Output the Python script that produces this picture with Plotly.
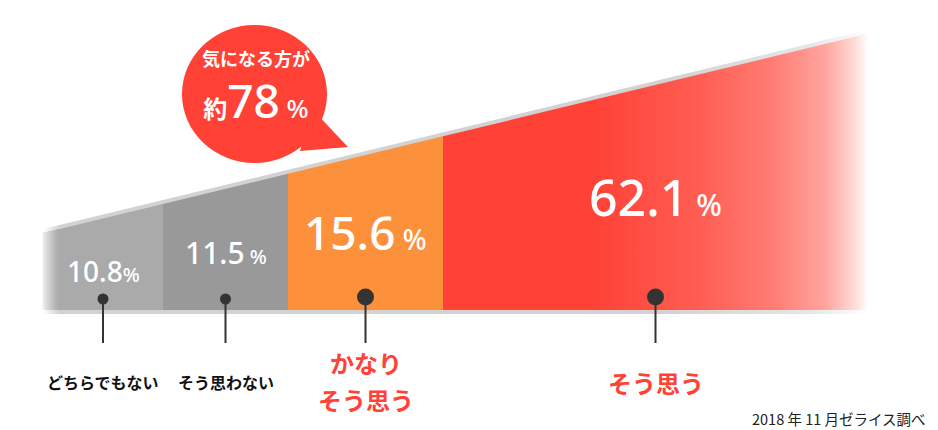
import plotly.graph_objects as go

# ---------------- data ----------------
categories = ["どちらでもない", "そう思わない", "かなり<br>そう思う", "そう思う"]
values = [10.8, 11.5, 15.6, 62.1]
value_suffix = ["%", " %", " %", " %"]
bubble_line1 = "気になる方が"
bubble_prefix = "約"
source_note = "2018 年 11 月ゼライス調べ"

# ---------------- layout / style constants ----------------
W, H = 938, 430
edges = [43, 163, 288, 443, 868]          # segment boundaries (px)
bar_bottom = 310
top_left, slope = 233.0, 0.2417          # slanted top edge
seg_colors = ["#aaaaaa", "#999999", "#fd903b", "#ff4136"]
left_fade_px = 16                         # width of white fade on the left end
red_gradient = [[0, "#ff4136"], [0.35, "#ff4136"], [0.6, "#ff5d53"], [0.78, "#ff7d74"],
                [0.9, "#ffa59f"], [0.97, "#ffdcd9"], [1, "#ffffff"]]
label_y = [271, 252, 232, 197]
num_size = [28, 30, 46, 50]
pct_size = [20, 20, 28, 30]
dot_size = [11, 11, 17, 17]
dot_y = [299, 299, 297, 297]
line_bottom = 343
cat_colors = ["#111111", "#111111", "#ff4136", "#ff4136"]
cat_sizes = [16, 16, 24, 24]
cat_y = [382, 382, 362, 382]
cat_line_gap = 37
num_font = "Noto Sans"
jp_font = "Noto Sans CJK JP"


def y_top(x):
    return top_left - slope * (x - edges[0])


def mix(c1, c2, t):
    a = [int(c1[k:k + 2], 16) for k in (1, 3, 5)]
    b = [int(c2[k:k + 2], 16) for k in (1, 3, 5)]
    return "#%02x%02x%02x" % tuple(round(a[j] + (b[j] - a[j]) * t) for j in range(3))


def quad(x0, x1, ytop_off=0.0, ybot=bar_bottom):
    return ([x0, x1, x1, x0, x0],
            [y_top(x0) + ytop_off, y_top(x1) + ytop_off, ybot, ybot, y_top(x0) + ytop_off])


fig = go.Figure()

# background gray strip (top edge line + bottom strip)
gx, gy = quad(edges[0], edges[-1], -4, bar_bottom + 4)
fig.add_trace(go.Scatter(
    x=gx, y=gy, mode="lines", fill="toself", line=dict(width=0, color="rgba(0,0,0,0)"),
    fillgradient=dict(type="horizontal",
                      colorscale=[[0, "#ffffff"], [0.02, "#d2d2d2"], [0.75, "#d2d2d2"],
                                  [0.93, "#e6e6e6"], [1, "#ffffff"]]),
    hoverinfo="skip"))

# segments
for i in range(len(values)):
    xs, ys = quad(edges[i], edges[i + 1])
    kw = dict(x=xs, y=ys, mode="lines", fill="toself",
              line=dict(width=0, color="rgba(0,0,0,0)"), hoverinfo="skip")
    if i == len(values) - 1:
        kw["fillgradient"] = dict(type="horizontal", colorscale=red_gradient)
    else:
        kw["fillcolor"] = seg_colors[i]
    fig.add_trace(go.Scatter(**kw))

# white fade on the left end of the first segment (thin slices)
for k in range(left_fade_px):
    xs, ys = quad(edges[0] + k - 0.5, edges[0] + k + 1)
    t = (k + 0.5) / left_fade_px
    fig.add_trace(go.Scatter(x=xs, y=ys, mode="lines", fill="toself",
                             fillcolor=mix("#f4f4f4", seg_colors[0], t ** 0.8),
                             line=dict(width=0, color="rgba(0,0,0,0)"), hoverinfo="skip"))

centers = [(edges[i] + edges[i + 1]) / 2 for i in range(len(values))]

# leader lines and dots
for i in range(len(values)):
    fig.add_trace(go.Scatter(x=[centers[i], centers[i]], y=[dot_y[i], line_bottom], mode="lines",
                             line=dict(color="#333333", width=2), hoverinfo="skip"))
fig.add_trace(go.Scatter(x=centers, y=dot_y, mode="markers", opacity=1,
                         marker=dict(size=dot_size, color="#333333", opacity=1,
                                     line=dict(width=0, color="#333333")),
                         hoverinfo="skip"))

# value labels
for i, v in enumerate(values):
    fig.add_annotation(
        x=centers[i], y=label_y[i], xref="x", yref="y", showarrow=False,
        text=f"{v:.1f}<span style='font-size:{pct_size[i]}px'>{value_suffix[i]}</span>",
        font=dict(family=num_font, size=num_size[i], color="white", weight=500),
        xanchor="center", yanchor="middle")

# category labels (multi-line labels drawn line by line)
for i, c in enumerate(categories):
    for j, part in enumerate(c.split("<br>")):
        fig.add_annotation(
            x=centers[i], y=cat_y[i] + j * cat_line_gap, xref="x", yref="y", showarrow=False,
            text=part,
            font=dict(family=jp_font, size=cat_sizes[i], color=cat_colors[i], weight=700),
            xanchor="center", yanchor="middle", align="center")

# speech bubble
fig.add_shape(type="circle", x0=182, x1=327, y0=25, y1=163, xref="x", yref="y",
              fillcolor="#ff4136", line=dict(width=0), layer="above")
fig.add_shape(type="path", path="M 313,110 L 348,147 L 300,151 Z", xref="x", yref="y",
              fillcolor="#ff4136", line=dict(width=0), layer="above")
total_positive = round(values[2] + values[3])
fig.add_annotation(
    x=256, y=88, xref="x", yref="y", showarrow=False, align="center",
    xanchor="center", yanchor="middle",
    text=(f"<span style='font-family:\"{jp_font}\";font-size:18px;font-weight:700'>{bubble_line1}</span><br>"
          f"<span style='font-family:\"{jp_font}\";font-size:24px;font-weight:700'>{bubble_prefix}</span>"
          f"<span style='font-size:46px'>{total_positive}</span>"
          f"<span style='font-size:26px'> %</span>"),
    font=dict(family=num_font, size=40, color="white", weight=500))

# source note
fig.add_annotation(x=928, y=418, xref="x", yref="y", showarrow=False, text=source_note,
                   xanchor="right", yanchor="middle",
                   font=dict(family=jp_font, size=14.5, color="#222222"))

fig.update_layout(
    width=W, height=H, margin=dict(l=0, r=0, t=0, b=0),
    paper_bgcolor="white", plot_bgcolor="white", showlegend=False,
    xaxis=dict(range=[0, W], visible=False, fixedrange=True),
    yaxis=dict(range=[H, 0], visible=False, fixedrange=True),
)

fig.write_html("out.html", config={"displayModeBar": False},
               post_script="document.body.style.margin='0';")
